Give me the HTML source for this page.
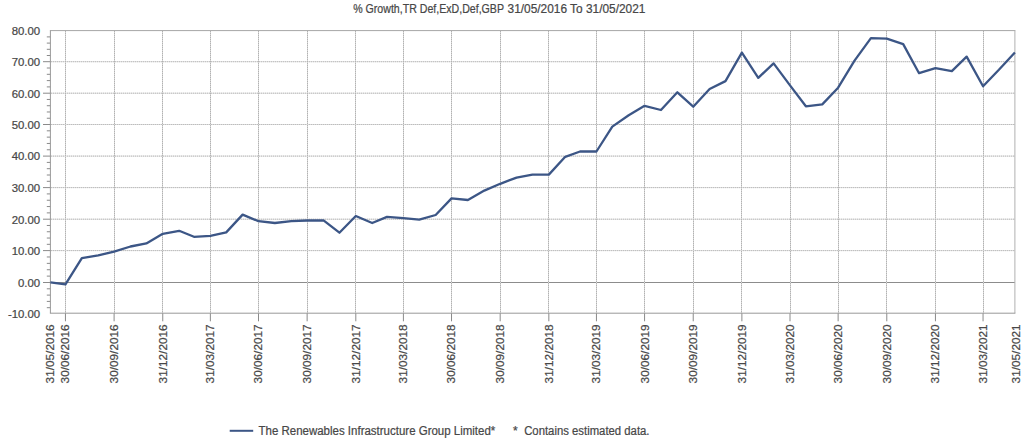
<!DOCTYPE html>
<html><head><meta charset="utf-8"><style>
html,body{margin:0;padding:0;background:#fff;width:1024px;height:444px;overflow:hidden}
svg{display:block;font-family:"Liberation Sans",sans-serif}
text{stroke:#474747;stroke-width:0.22px}
</style></head><body>
<svg width="1024" height="444" viewBox="0 0 1024 444">
<rect width="1024" height="444" fill="#fff"/>
<line x1="50.4" y1="61.7" x2="1014.9" y2="61.7" stroke="#dadada" stroke-width="1"/>
<line x1="51.0" y1="61.7" x2="1014.9" y2="61.7" stroke="#bdbdbd" stroke-width="1" stroke-dasharray="1 1"/>
<line x1="50.4" y1="93.2" x2="1014.9" y2="93.2" stroke="#dadada" stroke-width="1"/>
<line x1="51.0" y1="93.2" x2="1014.9" y2="93.2" stroke="#bdbdbd" stroke-width="1" stroke-dasharray="1 1"/>
<line x1="50.4" y1="124.5" x2="1014.9" y2="124.5" stroke="#dadada" stroke-width="1"/>
<line x1="51.0" y1="124.5" x2="1014.9" y2="124.5" stroke="#bdbdbd" stroke-width="1" stroke-dasharray="1 1"/>
<line x1="50.4" y1="156.1" x2="1014.9" y2="156.1" stroke="#dadada" stroke-width="1"/>
<line x1="51.0" y1="156.1" x2="1014.9" y2="156.1" stroke="#bdbdbd" stroke-width="1" stroke-dasharray="1 1"/>
<line x1="50.4" y1="187.6" x2="1014.9" y2="187.6" stroke="#dadada" stroke-width="1"/>
<line x1="51.0" y1="187.6" x2="1014.9" y2="187.6" stroke="#bdbdbd" stroke-width="1" stroke-dasharray="1 1"/>
<line x1="50.4" y1="219.2" x2="1014.9" y2="219.2" stroke="#dadada" stroke-width="1"/>
<line x1="51.0" y1="219.2" x2="1014.9" y2="219.2" stroke="#bdbdbd" stroke-width="1" stroke-dasharray="1 1"/>
<line x1="50.4" y1="250.6" x2="1014.9" y2="250.6" stroke="#dadada" stroke-width="1"/>
<line x1="51.0" y1="250.6" x2="1014.9" y2="250.6" stroke="#bdbdbd" stroke-width="1" stroke-dasharray="1 1"/>
<line x1="50.4" y1="282.5" x2="1014.9" y2="282.5" stroke="#8c8c8c" stroke-width="1"/>
<line x1="65.5" y1="30.6" x2="65.5" y2="313.2" stroke="#d4d4d4" stroke-width="1"/>
<line x1="65.5" y1="31" x2="65.5" y2="313.2" stroke="#b2b2b2" stroke-width="1" stroke-dasharray="1 1"/>
<line x1="65.45" y1="313.2" x2="65.45" y2="321.3" stroke="#8a8a8a" stroke-width="1"/>
<line x1="114.5" y1="30.6" x2="114.5" y2="313.2" stroke="#d4d4d4" stroke-width="1"/>
<line x1="114.5" y1="31" x2="114.5" y2="313.2" stroke="#b2b2b2" stroke-width="1" stroke-dasharray="1 1"/>
<line x1="114.10" y1="313.2" x2="114.10" y2="321.3" stroke="#8a8a8a" stroke-width="1"/>
<line x1="162.5" y1="30.6" x2="162.5" y2="313.2" stroke="#d4d4d4" stroke-width="1"/>
<line x1="162.5" y1="31" x2="162.5" y2="313.2" stroke="#b2b2b2" stroke-width="1" stroke-dasharray="1 1"/>
<line x1="162.76" y1="313.2" x2="162.76" y2="321.3" stroke="#8a8a8a" stroke-width="1"/>
<line x1="210.5" y1="30.6" x2="210.5" y2="313.2" stroke="#d4d4d4" stroke-width="1"/>
<line x1="210.5" y1="31" x2="210.5" y2="313.2" stroke="#b2b2b2" stroke-width="1" stroke-dasharray="1 1"/>
<line x1="210.36" y1="313.2" x2="210.36" y2="321.3" stroke="#8a8a8a" stroke-width="1"/>
<line x1="258.5" y1="30.6" x2="258.5" y2="313.2" stroke="#d4d4d4" stroke-width="1"/>
<line x1="258.5" y1="31" x2="258.5" y2="313.2" stroke="#b2b2b2" stroke-width="1" stroke-dasharray="1 1"/>
<line x1="258.49" y1="313.2" x2="258.49" y2="321.3" stroke="#8a8a8a" stroke-width="1"/>
<line x1="307.5" y1="30.6" x2="307.5" y2="313.2" stroke="#d4d4d4" stroke-width="1"/>
<line x1="307.5" y1="31" x2="307.5" y2="313.2" stroke="#b2b2b2" stroke-width="1" stroke-dasharray="1 1"/>
<line x1="307.14" y1="313.2" x2="307.14" y2="321.3" stroke="#8a8a8a" stroke-width="1"/>
<line x1="355.5" y1="30.6" x2="355.5" y2="313.2" stroke="#d4d4d4" stroke-width="1"/>
<line x1="355.5" y1="31" x2="355.5" y2="313.2" stroke="#b2b2b2" stroke-width="1" stroke-dasharray="1 1"/>
<line x1="355.80" y1="313.2" x2="355.80" y2="321.3" stroke="#8a8a8a" stroke-width="1"/>
<line x1="403.5" y1="30.6" x2="403.5" y2="313.2" stroke="#d4d4d4" stroke-width="1"/>
<line x1="403.5" y1="31" x2="403.5" y2="313.2" stroke="#b2b2b2" stroke-width="1" stroke-dasharray="1 1"/>
<line x1="403.40" y1="313.2" x2="403.40" y2="321.3" stroke="#8a8a8a" stroke-width="1"/>
<line x1="451.5" y1="30.6" x2="451.5" y2="313.2" stroke="#d4d4d4" stroke-width="1"/>
<line x1="451.5" y1="31" x2="451.5" y2="313.2" stroke="#b2b2b2" stroke-width="1" stroke-dasharray="1 1"/>
<line x1="451.53" y1="313.2" x2="451.53" y2="321.3" stroke="#8a8a8a" stroke-width="1"/>
<line x1="500.5" y1="30.6" x2="500.5" y2="313.2" stroke="#d4d4d4" stroke-width="1"/>
<line x1="500.5" y1="31" x2="500.5" y2="313.2" stroke="#b2b2b2" stroke-width="1" stroke-dasharray="1 1"/>
<line x1="500.18" y1="313.2" x2="500.18" y2="321.3" stroke="#8a8a8a" stroke-width="1"/>
<line x1="548.5" y1="30.6" x2="548.5" y2="313.2" stroke="#d4d4d4" stroke-width="1"/>
<line x1="548.5" y1="31" x2="548.5" y2="313.2" stroke="#b2b2b2" stroke-width="1" stroke-dasharray="1 1"/>
<line x1="548.84" y1="313.2" x2="548.84" y2="321.3" stroke="#8a8a8a" stroke-width="1"/>
<line x1="596.5" y1="30.6" x2="596.5" y2="313.2" stroke="#d4d4d4" stroke-width="1"/>
<line x1="596.5" y1="31" x2="596.5" y2="313.2" stroke="#b2b2b2" stroke-width="1" stroke-dasharray="1 1"/>
<line x1="596.44" y1="313.2" x2="596.44" y2="321.3" stroke="#8a8a8a" stroke-width="1"/>
<line x1="644.5" y1="30.6" x2="644.5" y2="313.2" stroke="#d4d4d4" stroke-width="1"/>
<line x1="644.5" y1="31" x2="644.5" y2="313.2" stroke="#b2b2b2" stroke-width="1" stroke-dasharray="1 1"/>
<line x1="644.57" y1="313.2" x2="644.57" y2="321.3" stroke="#8a8a8a" stroke-width="1"/>
<line x1="693.5" y1="30.6" x2="693.5" y2="313.2" stroke="#d4d4d4" stroke-width="1"/>
<line x1="693.5" y1="31" x2="693.5" y2="313.2" stroke="#b2b2b2" stroke-width="1" stroke-dasharray="1 1"/>
<line x1="693.22" y1="313.2" x2="693.22" y2="321.3" stroke="#8a8a8a" stroke-width="1"/>
<line x1="741.5" y1="30.6" x2="741.5" y2="313.2" stroke="#d4d4d4" stroke-width="1"/>
<line x1="741.5" y1="31" x2="741.5" y2="313.2" stroke="#b2b2b2" stroke-width="1" stroke-dasharray="1 1"/>
<line x1="741.88" y1="313.2" x2="741.88" y2="321.3" stroke="#8a8a8a" stroke-width="1"/>
<line x1="790.5" y1="30.6" x2="790.5" y2="313.2" stroke="#d4d4d4" stroke-width="1"/>
<line x1="790.5" y1="31" x2="790.5" y2="313.2" stroke="#b2b2b2" stroke-width="1" stroke-dasharray="1 1"/>
<line x1="790.01" y1="313.2" x2="790.01" y2="321.3" stroke="#8a8a8a" stroke-width="1"/>
<line x1="838.5" y1="30.6" x2="838.5" y2="313.2" stroke="#d4d4d4" stroke-width="1"/>
<line x1="838.5" y1="31" x2="838.5" y2="313.2" stroke="#b2b2b2" stroke-width="1" stroke-dasharray="1 1"/>
<line x1="838.13" y1="313.2" x2="838.13" y2="321.3" stroke="#8a8a8a" stroke-width="1"/>
<line x1="886.5" y1="30.6" x2="886.5" y2="313.2" stroke="#d4d4d4" stroke-width="1"/>
<line x1="886.5" y1="31" x2="886.5" y2="313.2" stroke="#b2b2b2" stroke-width="1" stroke-dasharray="1 1"/>
<line x1="886.79" y1="313.2" x2="886.79" y2="321.3" stroke="#8a8a8a" stroke-width="1"/>
<line x1="935.5" y1="30.6" x2="935.5" y2="313.2" stroke="#d4d4d4" stroke-width="1"/>
<line x1="935.5" y1="31" x2="935.5" y2="313.2" stroke="#b2b2b2" stroke-width="1" stroke-dasharray="1 1"/>
<line x1="935.45" y1="313.2" x2="935.45" y2="321.3" stroke="#8a8a8a" stroke-width="1"/>
<line x1="983.5" y1="30.6" x2="983.5" y2="313.2" stroke="#d4d4d4" stroke-width="1"/>
<line x1="983.5" y1="31" x2="983.5" y2="313.2" stroke="#b2b2b2" stroke-width="1" stroke-dasharray="1 1"/>
<line x1="983.05" y1="313.2" x2="983.05" y2="321.3" stroke="#8a8a8a" stroke-width="1"/>
<line x1="46.8" y1="36.90" x2="50.4" y2="36.90" stroke="#8a8a8a" stroke-width="1"/>
<line x1="46.8" y1="43.10" x2="50.4" y2="43.10" stroke="#8a8a8a" stroke-width="1"/>
<line x1="46.8" y1="49.30" x2="50.4" y2="49.30" stroke="#8a8a8a" stroke-width="1"/>
<line x1="46.8" y1="55.50" x2="50.4" y2="55.50" stroke="#8a8a8a" stroke-width="1"/>
<line x1="46.8" y1="68.00" x2="50.4" y2="68.00" stroke="#8a8a8a" stroke-width="1"/>
<line x1="46.8" y1="74.30" x2="50.4" y2="74.30" stroke="#8a8a8a" stroke-width="1"/>
<line x1="46.8" y1="80.60" x2="50.4" y2="80.60" stroke="#8a8a8a" stroke-width="1"/>
<line x1="46.8" y1="86.90" x2="50.4" y2="86.90" stroke="#8a8a8a" stroke-width="1"/>
<line x1="46.8" y1="99.46" x2="50.4" y2="99.46" stroke="#8a8a8a" stroke-width="1"/>
<line x1="46.8" y1="105.72" x2="50.4" y2="105.72" stroke="#8a8a8a" stroke-width="1"/>
<line x1="46.8" y1="111.98" x2="50.4" y2="111.98" stroke="#8a8a8a" stroke-width="1"/>
<line x1="46.8" y1="118.24" x2="50.4" y2="118.24" stroke="#8a8a8a" stroke-width="1"/>
<line x1="46.8" y1="130.82" x2="50.4" y2="130.82" stroke="#8a8a8a" stroke-width="1"/>
<line x1="46.8" y1="137.14" x2="50.4" y2="137.14" stroke="#8a8a8a" stroke-width="1"/>
<line x1="46.8" y1="143.46" x2="50.4" y2="143.46" stroke="#8a8a8a" stroke-width="1"/>
<line x1="46.8" y1="149.78" x2="50.4" y2="149.78" stroke="#8a8a8a" stroke-width="1"/>
<line x1="46.8" y1="162.40" x2="50.4" y2="162.40" stroke="#8a8a8a" stroke-width="1"/>
<line x1="46.8" y1="168.70" x2="50.4" y2="168.70" stroke="#8a8a8a" stroke-width="1"/>
<line x1="46.8" y1="175.00" x2="50.4" y2="175.00" stroke="#8a8a8a" stroke-width="1"/>
<line x1="46.8" y1="181.30" x2="50.4" y2="181.30" stroke="#8a8a8a" stroke-width="1"/>
<line x1="46.8" y1="193.92" x2="50.4" y2="193.92" stroke="#8a8a8a" stroke-width="1"/>
<line x1="46.8" y1="200.24" x2="50.4" y2="200.24" stroke="#8a8a8a" stroke-width="1"/>
<line x1="46.8" y1="206.56" x2="50.4" y2="206.56" stroke="#8a8a8a" stroke-width="1"/>
<line x1="46.8" y1="212.88" x2="50.4" y2="212.88" stroke="#8a8a8a" stroke-width="1"/>
<line x1="46.8" y1="225.48" x2="50.4" y2="225.48" stroke="#8a8a8a" stroke-width="1"/>
<line x1="46.8" y1="231.76" x2="50.4" y2="231.76" stroke="#8a8a8a" stroke-width="1"/>
<line x1="46.8" y1="238.04" x2="50.4" y2="238.04" stroke="#8a8a8a" stroke-width="1"/>
<line x1="46.8" y1="244.32" x2="50.4" y2="244.32" stroke="#8a8a8a" stroke-width="1"/>
<line x1="46.8" y1="256.98" x2="50.4" y2="256.98" stroke="#8a8a8a" stroke-width="1"/>
<line x1="46.8" y1="263.36" x2="50.4" y2="263.36" stroke="#8a8a8a" stroke-width="1"/>
<line x1="46.8" y1="269.74" x2="50.4" y2="269.74" stroke="#8a8a8a" stroke-width="1"/>
<line x1="46.8" y1="276.12" x2="50.4" y2="276.12" stroke="#8a8a8a" stroke-width="1"/>
<line x1="46.8" y1="288.80" x2="50.4" y2="288.80" stroke="#8a8a8a" stroke-width="1"/>
<line x1="46.8" y1="295.10" x2="50.4" y2="295.10" stroke="#8a8a8a" stroke-width="1"/>
<line x1="46.8" y1="301.40" x2="50.4" y2="301.40" stroke="#8a8a8a" stroke-width="1"/>
<line x1="46.8" y1="307.70" x2="50.4" y2="307.70" stroke="#8a8a8a" stroke-width="1"/>
<line x1="43" y1="61.7" x2="50.4" y2="61.7" stroke="#8a8a8a" stroke-width="1"/>
<line x1="43" y1="93.2" x2="50.4" y2="93.2" stroke="#8a8a8a" stroke-width="1"/>
<line x1="43" y1="124.5" x2="50.4" y2="124.5" stroke="#8a8a8a" stroke-width="1"/>
<line x1="43" y1="156.1" x2="50.4" y2="156.1" stroke="#8a8a8a" stroke-width="1"/>
<line x1="43" y1="187.6" x2="50.4" y2="187.6" stroke="#8a8a8a" stroke-width="1"/>
<line x1="43" y1="219.2" x2="50.4" y2="219.2" stroke="#8a8a8a" stroke-width="1"/>
<line x1="43" y1="250.6" x2="50.4" y2="250.6" stroke="#8a8a8a" stroke-width="1"/>
<line x1="43" y1="282.5" x2="50.4" y2="282.5" stroke="#8a8a8a" stroke-width="1"/>
<line x1="49.9" y1="30.6" x2="1015.4" y2="30.6" stroke="#a6a6a6" stroke-width="1"/>
<line x1="1014.9" y1="30.6" x2="1014.9" y2="313.2" stroke="#b0b0b0" stroke-width="1"/>
<line x1="49.9" y1="313.2" x2="1015.4" y2="313.2" stroke="#999" stroke-width="1"/>
<line x1="50.4" y1="30.6" x2="50.4" y2="313.2" stroke="#999" stroke-width="1"/>
<polyline points="50.40,282.40 65.45,284.30 81.84,258.10 98.24,255.40 114.10,251.60 130.50,246.50 146.36,243.40 162.76,233.80 179.15,230.80 193.96,236.80 210.36,235.80 226.22,232.40 242.62,214.60 258.49,221.20 274.88,223.00 291.28,221.20 307.14,220.50 323.54,220.30 339.40,232.70 355.80,216.00 372.19,223.00 387.00,216.90 403.40,218.20 419.26,219.60 435.66,215.00 451.53,198.40 467.92,200.00 484.32,190.60 500.18,183.80 516.58,177.60 532.44,174.60 548.84,174.60 565.23,156.80 580.04,151.50 596.44,151.50 612.30,126.60 628.70,115.20 644.57,105.80 660.96,110.00 677.36,92.30 693.22,106.70 709.62,89.00 725.48,81.10 741.88,52.60 758.27,77.80 773.61,63.40 790.01,85.40 805.87,106.30 822.27,104.40 838.13,87.70 854.53,60.60 870.92,38.10 886.79,38.60 903.19,44.10 919.05,73.20 935.45,68.20 951.84,71.10 966.65,56.60 983.05,86.20 998.91,69.80 1014.90,52.50" fill="none" stroke="#3c5686" stroke-width="2.3" stroke-linejoin="round" stroke-linecap="butt"/>
<text x="40.2" y="35.0" text-anchor="end" font-size="11.4" fill="#474747">80.00</text>
<text x="40.2" y="66.0" text-anchor="end" font-size="11.4" fill="#474747">70.00</text>
<text x="40.2" y="97.5" text-anchor="end" font-size="11.4" fill="#474747">60.00</text>
<text x="40.2" y="128.8" text-anchor="end" font-size="11.4" fill="#474747">50.00</text>
<text x="40.2" y="160.4" text-anchor="end" font-size="11.4" fill="#474747">40.00</text>
<text x="40.2" y="191.9" text-anchor="end" font-size="11.4" fill="#474747">30.00</text>
<text x="40.2" y="223.5" text-anchor="end" font-size="11.4" fill="#474747">20.00</text>
<text x="40.2" y="254.9" text-anchor="end" font-size="11.4" fill="#474747">10.00</text>
<text x="40.2" y="286.8" text-anchor="end" font-size="11.4" fill="#474747">0.00</text>
<text x="40.2" y="317.5" text-anchor="end" font-size="11.4" fill="#474747">-10.00</text>
<text transform="translate(53.9,324.4) rotate(-90)" text-anchor="end" font-size="11" fill="#474747" textLength="59" lengthAdjust="spacingAndGlyphs">31/05/2016</text>
<text transform="translate(69.3,324.4) rotate(-90)" text-anchor="end" font-size="11" fill="#474747" textLength="59" lengthAdjust="spacingAndGlyphs">30/06/2016</text>
<text transform="translate(118.0,324.4) rotate(-90)" text-anchor="end" font-size="11" fill="#474747" textLength="59" lengthAdjust="spacingAndGlyphs">30/09/2016</text>
<text transform="translate(166.7,324.4) rotate(-90)" text-anchor="end" font-size="11" fill="#474747" textLength="59" lengthAdjust="spacingAndGlyphs">31/12/2016</text>
<text transform="translate(214.3,324.4) rotate(-90)" text-anchor="end" font-size="11" fill="#474747" textLength="59" lengthAdjust="spacingAndGlyphs">31/03/2017</text>
<text transform="translate(262.4,324.4) rotate(-90)" text-anchor="end" font-size="11" fill="#474747" textLength="59" lengthAdjust="spacingAndGlyphs">30/06/2017</text>
<text transform="translate(311.0,324.4) rotate(-90)" text-anchor="end" font-size="11" fill="#474747" textLength="59" lengthAdjust="spacingAndGlyphs">30/09/2017</text>
<text transform="translate(359.7,324.4) rotate(-90)" text-anchor="end" font-size="11" fill="#474747" textLength="59" lengthAdjust="spacingAndGlyphs">31/12/2017</text>
<text transform="translate(407.3,324.4) rotate(-90)" text-anchor="end" font-size="11" fill="#474747" textLength="59" lengthAdjust="spacingAndGlyphs">31/03/2018</text>
<text transform="translate(455.4,324.4) rotate(-90)" text-anchor="end" font-size="11" fill="#474747" textLength="59" lengthAdjust="spacingAndGlyphs">30/06/2018</text>
<text transform="translate(504.1,324.4) rotate(-90)" text-anchor="end" font-size="11" fill="#474747" textLength="59" lengthAdjust="spacingAndGlyphs">30/09/2018</text>
<text transform="translate(552.7,324.4) rotate(-90)" text-anchor="end" font-size="11" fill="#474747" textLength="59" lengthAdjust="spacingAndGlyphs">31/12/2018</text>
<text transform="translate(600.3,324.4) rotate(-90)" text-anchor="end" font-size="11" fill="#474747" textLength="59" lengthAdjust="spacingAndGlyphs">31/03/2019</text>
<text transform="translate(648.5,324.4) rotate(-90)" text-anchor="end" font-size="11" fill="#474747" textLength="59" lengthAdjust="spacingAndGlyphs">30/06/2019</text>
<text transform="translate(697.1,324.4) rotate(-90)" text-anchor="end" font-size="11" fill="#474747" textLength="59" lengthAdjust="spacingAndGlyphs">30/09/2019</text>
<text transform="translate(745.8,324.4) rotate(-90)" text-anchor="end" font-size="11" fill="#474747" textLength="59" lengthAdjust="spacingAndGlyphs">31/12/2019</text>
<text transform="translate(793.9,324.4) rotate(-90)" text-anchor="end" font-size="11" fill="#474747" textLength="59" lengthAdjust="spacingAndGlyphs">31/03/2020</text>
<text transform="translate(842.0,324.4) rotate(-90)" text-anchor="end" font-size="11" fill="#474747" textLength="59" lengthAdjust="spacingAndGlyphs">30/06/2020</text>
<text transform="translate(890.7,324.4) rotate(-90)" text-anchor="end" font-size="11" fill="#474747" textLength="59" lengthAdjust="spacingAndGlyphs">30/09/2020</text>
<text transform="translate(939.3,324.4) rotate(-90)" text-anchor="end" font-size="11" fill="#474747" textLength="59" lengthAdjust="spacingAndGlyphs">31/12/2020</text>
<text transform="translate(986.9,324.4) rotate(-90)" text-anchor="end" font-size="11" fill="#474747" textLength="59" lengthAdjust="spacingAndGlyphs">31/03/2021</text>
<text transform="translate(1019.8,324.4) rotate(-90)" text-anchor="end" font-size="11" fill="#474747" textLength="59" lengthAdjust="spacingAndGlyphs">31/05/2021</text>
<text x="353.2" y="12.8" font-size="12" fill="#474747" textLength="150.8" lengthAdjust="spacingAndGlyphs">% Growth,TR Def,ExD,Def,GBP</text>
<text x="507.6" y="12.8" font-size="12" fill="#474747" textLength="137.8" lengthAdjust="spacingAndGlyphs">31/05/2016 To 31/05/2021</text>
<line x1="229.7" y1="430.8" x2="253.2" y2="430.8" stroke="#3c5686" stroke-width="2"/>
<text x="258.5" y="435" font-size="12" fill="#474747" textLength="236.8" lengthAdjust="spacingAndGlyphs">The Renewables Infrastructure Group Limited*</text>
<text x="513" y="435" font-size="12" fill="#474747">*</text>
<text x="524.2" y="435" font-size="12" fill="#474747" textLength="125.3" lengthAdjust="spacingAndGlyphs">Contains estimated data.</text>
</svg>
</body></html>
